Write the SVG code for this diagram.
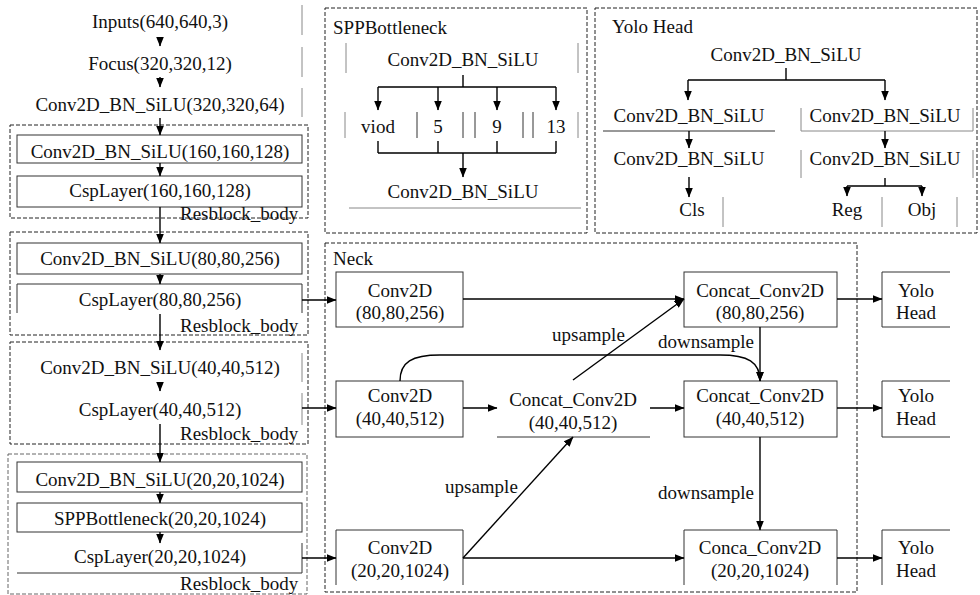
<svg xmlns="http://www.w3.org/2000/svg" width="980" height="595" viewBox="0 0 980 595">
<defs>
<marker id="ah" markerWidth="10" markerHeight="8" refX="9.5" refY="4" orient="auto" markerUnits="userSpaceOnUse"><path d="M0,0 L10,4 L0,8 z" fill="#000"/></marker>
<style>
text{font-family:"Liberation Serif","Times New Roman",serif;font-size:19px;fill:#111}
.c{text-anchor:middle}
.b{fill:none;stroke:#333;stroke-width:1}
.g{fill:none;stroke:#888;stroke-width:1}
.d{fill:none;stroke:#222;stroke-width:1;stroke-dasharray:4 2}
.dg{fill:none;stroke:#666;stroke-width:1;stroke-dasharray:4 2}
.e{fill:none;stroke:#000;stroke-width:1.4}
.a{fill:none;stroke:#000;stroke-width:1.4;marker-end:url(#ah)}
</style>
</defs>
<rect width="980" height="595" fill="#fff"/>

<!-- Left column backbone -->
<g id="inputs"><text class="c" x="160" y="28">Inputs(640,640,3)</text><line class="g" x1="302" y1="5" x2="302" y2="35"/></g>
<g id="focus"><text class="c" x="160" y="70">Focus(320,320,12)</text><line class="g" x1="302" y1="47" x2="302" y2="77"/></g>
<g id="conv0"><text class="c" x="160" y="111">Conv2D_BN_SiLU(320,320,64)</text><line class="g" x1="302" y1="88" x2="302" y2="117"/></g>

<g id="res1">
<rect class="d" x="10" y="125" width="298" height="93"/>
<rect class="b" x="17" y="135" width="285" height="28"/>
<text class="c" x="160" y="158">Conv2D_BN_SiLU(160,160,128)</text>
<rect class="b" x="17" y="176" width="285" height="31"/>
<text class="c" x="160" y="197">CspLayer(160,160,128)</text>
<text x="180" y="220">Resblock_body</text>
</g>

<g id="res2">
<rect class="d" x="10" y="232" width="298" height="103"/>
<rect class="b" x="17" y="243" width="285" height="31"/>
<text class="c" x="160" y="265">Conv2D_BN_SiLU(80,80,256)</text>
<path class="b" d="M17,313 V284 H302 V313"/>
<text class="c" x="160" y="306">CspLayer(80,80,256)</text>
<text x="180" y="332">Resblock_body</text>
</g>

<g id="res3">
<rect class="d" x="10" y="342" width="298" height="102"/>
<text class="c" x="160" y="374">Conv2D_BN_SiLU(40,40,512)</text>
<line class="g" x1="302" y1="353" x2="302" y2="382"/>
<text class="c" x="160" y="416">CspLayer(40,40,512)</text>
<line class="g" x1="302" y1="393" x2="302" y2="425"/>
<text x="180" y="440">Resblock_body</text>
</g>

<g id="res4">
<rect class="dg" x="8" y="454" width="299" height="140"/>
<rect class="b" x="17" y="462" width="285" height="30"/>
<text class="c" x="160" y="486">Conv2D_BN_SiLU(20,20,1024)</text>
<rect class="b" x="17" y="503" width="285" height="29"/>
<text class="c" x="160" y="525">SPPBottleneck(20,20,1024)</text>
<path class="b" d="M302,543 V573 H17"/>
<text class="c" x="160" y="563">CspLayer(20,20,1024)</text>
<text x="180" y="590">Resblock_body</text>
</g>

<!-- SPPBottleneck detail -->
<g id="spp">
<rect class="d" x="325" y="8" width="262" height="225"/>
<text x="333" y="34">SPPBottleneck</text>
</g>
<g id="spp-in"><text class="c" x="463" y="66">Conv2D_BN_SiLU</text><line class="g" x1="346" y1="43" x2="346" y2="73"/><line class="g" x1="578" y1="43" x2="578" y2="73"/></g>
<g id="spp-viod"><text class="c" x="378" y="133">viod</text><line class="g" x1="345" y1="112" x2="345" y2="138"/><line class="b" x1="417" y1="112" x2="417" y2="138"/></g>
<g id="spp-5"><text class="c" x="438" y="133">5</text><line class="b" x1="463" y1="112" x2="463" y2="138"/></g>
<g id="spp-9"><text class="c" x="497" y="133">9</text><line class="b" x1="475" y1="112" x2="475" y2="138"/><line class="b" x1="523" y1="112" x2="523" y2="138"/></g>
<g id="spp-13"><text class="c" x="556" y="133">13</text><line class="b" x1="533" y1="112" x2="533" y2="138"/><line class="g" x1="578" y1="112" x2="578" y2="138"/></g>
<g id="spp-out"><text class="c" x="463" y="198">Conv2D_BN_SiLU</text><line class="g" x1="349" y1="208" x2="581" y2="208"/></g>

<!-- Yolo Head detail -->
<g id="yolohead">
<rect class="d" x="595" y="8" width="382" height="225"/>
<text x="612" y="33">Yolo Head</text>
</g>
<g id="yh-in"><text class="c" x="786" y="61">Conv2D_BN_SiLU</text></g>
<g id="yh-l1"><text class="c" x="689" y="122">Conv2D_BN_SiLU</text><line class="b" x1="603" y1="131" x2="775" y2="131"/></g>
<g id="yh-r1"><text class="c" x="885" y="122">Conv2D_BN_SiLU</text><path class="g" d="M801,108 V131 H973 V108"/></g>
<g id="yh-l2"><text class="c" x="689" y="165">Conv2D_BN_SiLU</text></g>
<g id="yh-r2"><text class="c" x="885" y="165">Conv2D_BN_SiLU</text><line class="g" x1="801" y1="150" x2="801" y2="178"/><line class="g" x1="973" y1="150" x2="973" y2="178"/></g>
<g id="yh-cls"><text class="c" x="692" y="216">Cls</text><line class="g" x1="723" y1="197" x2="723" y2="227"/></g>
<g id="yh-reg"><text class="c" x="847" y="216">Reg</text><line class="g" x1="882" y1="197" x2="882" y2="227"/></g>
<g id="yh-obj"><text class="c" x="922" y="216">Obj</text><line class="g" x1="957" y1="197" x2="957" y2="227"/></g>

<!-- Neck -->
<g id="neck">
<rect class="d" x="325" y="243" width="532" height="349"/>
<text x="333" y="265">Neck</text>
</g>
<g id="n-conv80"><rect class="b" x="336" y="272" width="127" height="55"/><text class="c" x="400" y="297">Conv2D</text><text class="c" x="400" y="319">(80,80,256)</text></g>
<g id="n-conv40"><rect class="b" x="336" y="381" width="127" height="56"/><text class="c" x="400" y="402">Conv2D</text><text class="c" x="400" y="425">(40,40,512)</text></g>
<g id="n-conv20"><path class="b" d="M336,585 V530 H463 V585"/><text class="c" x="400" y="554">Conv2D</text><text class="c" x="400" y="577">(20,20,1024)</text></g>
<g id="n-cc40mid"><text class="c" x="573" y="406">Concat_Conv2D</text><text class="c" x="573" y="429">(40,40,512)</text><line class="b" x1="497" y1="437" x2="650" y2="437"/></g>
<g id="n-cc80"><rect class="b" x="684" y="272" width="153" height="55"/><text class="c" x="760" y="297">Concat_Conv2D</text><text class="c" x="760" y="319">(80,80,256)</text></g>
<g id="n-cc40"><rect class="b" x="684" y="381" width="153" height="56"/><text class="c" x="760" y="402">Concat_Conv2D</text><text class="c" x="760" y="425">(40,40,512)</text></g>
<g id="n-cc20"><path class="b" d="M684,585 V530 H837 V585"/><text class="c" x="760" y="554">Conca_Conv2D</text><text class="c" x="760" y="577">(20,20,1024)</text></g>
<g id="yolo1"><path class="b" d="M950,272 H882 V327 H950"/><text class="c" x="916" y="297">Yolo</text><text class="c" x="916" y="319">Head</text></g>
<g id="yolo2"><path class="b" d="M950,381 H882 V437 H950"/><text class="c" x="916" y="402">Yolo</text><text class="c" x="916" y="425">Head</text></g>
<g id="yolo3"><path class="b" d="M882,585 V530 H950"/><text class="c" x="916" y="554">Yolo</text><text class="c" x="916" y="577">Head</text></g>

<!-- Connectors -->
<g id="connectors">
<line class="a" x1="160" y1="37" x2="160" y2="46"/>
<line class="a" x1="160" y1="77" x2="160" y2="87"/>
<line class="a" x1="160" y1="118" x2="160" y2="135"/>
<line class="a" x1="160" y1="163" x2="160" y2="176"/>
<line class="a" x1="160" y1="207" x2="160" y2="243"/>
<line class="a" x1="160" y1="274" x2="160" y2="284"/>
<line class="a" x1="160" y1="314" x2="160" y2="350"/>
<line class="a" x1="160" y1="382" x2="160" y2="391"/>
<line class="a" x1="160" y1="424" x2="160" y2="462"/>
<line class="a" x1="160" y1="492" x2="160" y2="503"/>
<line class="a" x1="160" y1="532" x2="160" y2="543"/>
<line class="a" x1="302" y1="300" x2="336" y2="300"/>
<line class="a" x1="302" y1="408" x2="336" y2="408"/>
<line class="a" x1="302" y1="558" x2="336" y2="558"/>

<path class="e" d="M463,75 V87 M378,87 H556"/>
<line class="a" x1="378" y1="87" x2="378" y2="110"/>
<line class="a" x1="438" y1="87" x2="438" y2="110"/>
<line class="a" x1="497" y1="87" x2="497" y2="110"/>
<line class="a" x1="556" y1="87" x2="556" y2="110"/>
<path class="e" d="M378,141 V153 M438,141 V153 M497,141 V153 M556,141 V153 M378,153 H556"/>
<line class="a" x1="463" y1="153" x2="463" y2="177"/>

<path class="e" d="M786,68 V80 M688,80 H885"/>
<line class="a" x1="688" y1="80" x2="688" y2="100"/>
<line class="a" x1="885" y1="80" x2="885" y2="100"/>
<line class="a" x1="689" y1="131" x2="689" y2="148"/>
<line class="a" x1="885" y1="131" x2="885" y2="148"/>
<line class="a" x1="689" y1="177" x2="689" y2="197"/>
<path class="e" d="M885,178 V186 M847,186 H922"/>
<line class="a" x1="847" y1="186" x2="847" y2="196"/>
<line class="a" x1="922" y1="186" x2="922" y2="196"/>

<line class="a" x1="463" y1="299" x2="684" y2="299"/>
<line class="a" x1="573" y1="380" x2="684" y2="299"/>
<line class="a" x1="837" y1="299" x2="882" y2="299"/>
<path class="a" d="M400,381 C400,362 412,355 440,355 L720,355 C748,355 760,362 760,381"/>
<line class="a" x1="760" y1="327" x2="760" y2="381"/>
<line class="a" x1="463" y1="408" x2="497" y2="408"/>
<line class="a" x1="650" y1="408" x2="684" y2="408"/>
<line class="a" x1="837" y1="408" x2="882" y2="408"/>
<line class="a" x1="463" y1="558" x2="573" y2="437"/>
<line class="a" x1="760" y1="437" x2="760" y2="530"/>
<line class="a" x1="463" y1="558" x2="684" y2="558"/>
<line class="a" x1="837" y1="558" x2="882" y2="558"/>
<text x="552" y="341">upsample</text>
<text x="658" y="348">downsample</text>
<text x="445" y="493">upsample</text>
<text x="658" y="499">downsample</text>
</g>
</svg>
